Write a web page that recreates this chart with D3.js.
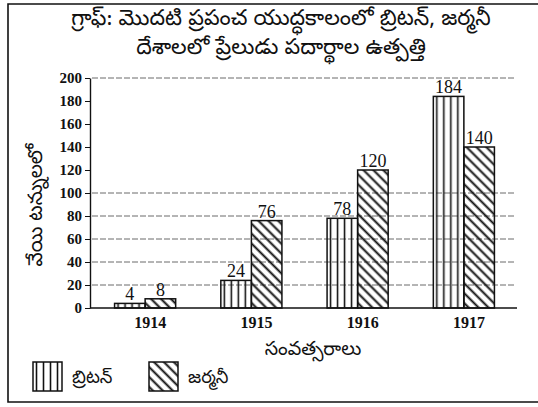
<!DOCTYPE html>
<html>
<head>
<meta charset="utf-8">
<script src="https://cdn.jsdelivr.net/npm/d3@7"></script>
<style>
  body { margin: 0; background: #fff; }
  svg { display: block; }
  .te { font-family: "Noto Sans Telugu", "Noto Sans", sans-serif; }
  .num { font-family: "Liberation Serif", "DejaVu Serif", serif; }
</style>
</head>
<body>
<div id="chart"></div>
<script>
// Chart data
const years = ['1914', '1915', '1916', '1917'];
const britain = [4, 24, 78, 184];
const germany = [8, 76, 120, 140];
const yTicks = [0, 20, 40, 60, 80, 100, 120, 140, 160, 180, 200];
const gridTicks = [20, 40, 60, 80, 100, 200];
const seriesNames = ['బ్రిటన్', 'జర్మనీ'];
const titleLines = ['గ్రాఫ్: మొదటి ప్రపంచ యుద్ధకాలంలో బ్రిటన్, జర్మనీ', 'దేశాలలో ప్రేలుడు పదార్థాల ఉత్పత్తి'];
const yTitle = 'వేయి టన్నులలో';
const xTitle = 'సంవత్సరాలు';

const width = 538, height = 407;

const svg = d3.select('#chart').append('svg')
    .attr('width', width)
    .attr('height', height);

// hatch patterns
const defs = svg.append('defs');
defs.append('pattern')
    .attr('id', 'vert')
    .attr('patternUnits', 'userSpaceOnUse')
    .attr('width', 7).attr('height', 7)
    .append('line')
    .attr('x1', 3.5).attr('y1', 0).attr('x2', 3.5).attr('y2', 7)
    .attr('stroke', '#111').attr('stroke-width', 1.6);

const diag = defs.append('pattern')
    .attr('id', 'diag')
    .attr('patternUnits', 'userSpaceOnUse')
    .attr('width', 7).attr('height', 7)
    .attr('patternTransform', 'rotate(45)');
diag.append('line')
    .attr('x1', 0).attr('y1', 3.5).attr('x2', 7).attr('y2', 3.5)
    .attr('stroke', '#111').attr('stroke-width', 2);

const fills = ['url(#vert)', 'url(#diag)'];

// frame
svg.append('path')
    .attr('d', 'M560,4 H8 V402 H560')
    .attr('fill', 'none')
    .attr('stroke', '#111')
    .attr('stroke-width', 1.6);

// title
svg.append('g').selectAll('text')
    .data(titleLines)
    .enter()
    .append('text')
    .attr('class', 'te')
    .attr('x', 281)
    .attr('y', (d, i) => 25 + i * 29)
    .attr('text-anchor', 'middle')
    .attr('font-size', 22)
    .attr('fill', '#111')
    .text(d => d);

// scales
const x = d3.scaleBand()
    .domain(years)
    .range([92, 517])
    .paddingInner(0.425)
    .paddingOuter(0.2125);

const xs = d3.scaleBand()
    .domain([0, 1])
    .range([0, x.bandwidth()]);

const y = d3.scaleLinear()
    .domain([0, 200])
    .range([308, 78]);

// grid lines
svg.append('g').selectAll('line')
    .data(gridTicks)
    .enter()
    .append('line')
    .attr('x1', 92).attr('x2', 514)
    .attr('y1', d => y(d)).attr('y2', d => y(d))
    .attr('stroke', '#444')
    .attr('stroke-width', 0.8)
    .attr('stroke-dasharray', '6,2');

// y axis
const yAxis = svg.append('g')
    .attr('transform', 'translate(90,0)')
    .call(d3.axisLeft(y).tickValues(yTicks).tickSize(5).tickSizeOuter(0));
yAxis.select('.domain').attr('stroke', '#111').attr('stroke-width', 1.4);
yAxis.selectAll('.tick line').attr('stroke', '#111');
yAxis.selectAll('.tick text')
    .attr('class', 'num')
    .attr('font-size', 15)
    .attr('font-weight', 'bold')
    .attr('fill', '#111')
    .attr('x', -8);

// x axis
const xAxis = svg.append('g')
    .attr('transform', 'translate(0,308)')
    .call(d3.axisBottom(x).tickSize(0));
xAxis.select('.domain')
    .attr('d', 'M90,0H517')
    .attr('stroke', '#111')
    .attr('stroke-width', 1.6);
xAxis.selectAll('.tick text')
    .attr('class', 'num')
    .attr('font-size', 16)
    .attr('font-weight', 'bold')
    .attr('fill', '#111')
    .attr('dx', 5)
    .attr('dy', 17);

// bars
const groups = svg.append('g').selectAll('g')
    .data(years)
    .enter()
    .append('g')
    .attr('transform', d => `translate(${x(d)},0)`);

const barData = (d, i) => [
    { s: 0, v: britain[i] },
    { s: 1, v: germany[i] }
];

groups.selectAll('rect')
    .data(barData)
    .enter()
    .append('rect')
    .attr('x', d => xs(d.s))
    .attr('y', d => y(d.v))
    .attr('width', xs.bandwidth())
    .attr('height', d => y(0) - y(d.v))
    .attr('fill', d => fills[d.s])
    .attr('stroke', '#111')
    .attr('stroke-width', 1.5);

groups.selectAll('text')
    .data(barData)
    .enter()
    .append('text')
    .attr('class', 'num')
    .attr('x', d => xs(d.s) + xs.bandwidth() / 2)
    .attr('y', d => y(d.v) - 3)
    .attr('text-anchor', 'middle')
    .attr('font-size', 18)
    .attr('fill', '#111')
    .text(d => d.v);

// axis titles
svg.append('text')
    .attr('class', 'te')
    .attr('transform', 'translate(42,205) rotate(-90)')
    .attr('text-anchor', 'middle')
    .attr('font-size', 20)
    .attr('fill', '#111')
    .text(yTitle);

svg.append('text')
    .attr('class', 'te')
    .attr('x', 313)
    .attr('y', 355)
    .attr('text-anchor', 'middle')
    .attr('font-size', 19)
    .attr('fill', '#111')
    .text(xTitle);

// legend
const legend = svg.append('g').selectAll('g')
    .data(seriesNames)
    .enter()
    .append('g')
    .attr('transform', (d, i) => `translate(${33 + i * 116},362)`);

legend.append('rect')
    .attr('width', 29).attr('height', 29)
    .attr('fill', (d, i) => fills[i])
    .attr('stroke', '#111')
    .attr('stroke-width', 1.5);

legend.append('text')
    .attr('class', 'te')
    .attr('x', 39)
    .attr('y', 21)
    .attr('font-size', 18)
    .attr('fill', '#111')
    .text(d => d);
</script>
</body>
</html>
